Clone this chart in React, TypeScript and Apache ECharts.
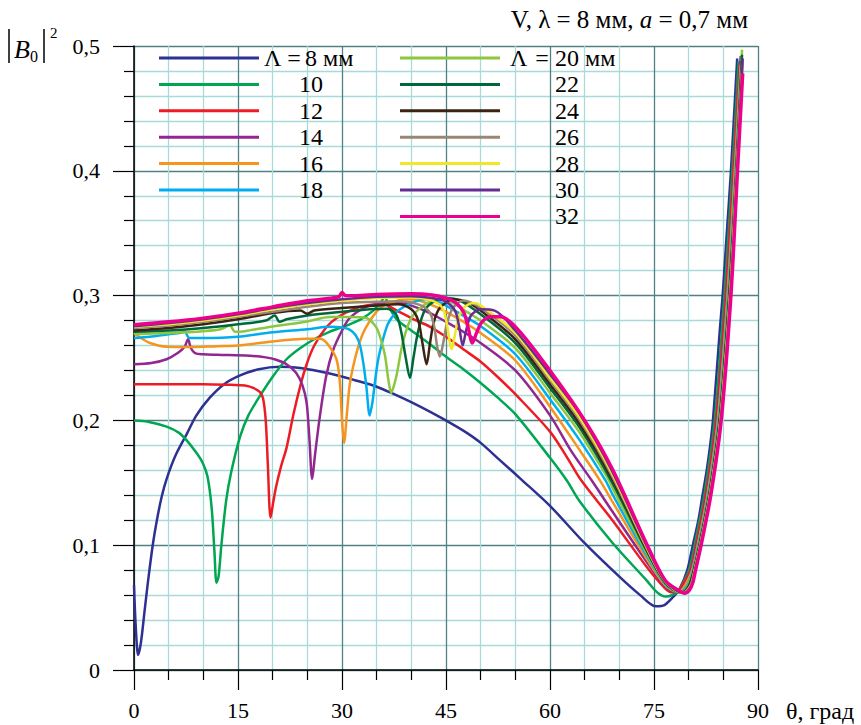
import React, { useEffect, useRef } from "react";
import * as echarts from "echarts";

const FONT = "Liberation Serif";

// Λ values (mm) for each curve
const lambdas = ["8", "10", "12", "14", "16", "18", "20", "22", "24", "26", "28", "30", "32"];
const legendLeft = ["8", "10", "12", "14", "16", "18"];
const legendRight = ["20", "22", "24", "26", "28", "30", "32"];

// [theta (deg), |B0|^2]
const curve8 = [[0,0.068],[0.25,0.035],[0.6,0.012],[1.0,0.022],[1.5,0.046],[2,0.07],[2.7,0.1],[3.3,0.12],[4,0.139],[4.7,0.153],[6,0.172],[7.6,0.189],[9,0.204],[10.9,0.218],[13,0.229],[15.3,0.236],[18,0.241],[21,0.243],[24,0.242],[27,0.239],[29.4,0.236],[32,0.232],[35,0.227],[37.5,0.221],[40.2,0.214],[43,0.206],[45.6,0.198],[48,0.19],[50,0.182],[52.8,0.168],[56,0.152],[60,0.1315],[65,0.1016],[70,0.0748],[73,0.06],[75.3,0.051],[76.5,0.052],[77.8,0.0588],[78.7,0.065],[79.8,0.08],[80.6,0.1],[81.4,0.12],[82,0.14],[82.6,0.16],[83.1,0.18],[83.5,0.2],[84.5,0.273],[84.9,0.3],[85.5,0.35],[86.1,0.4],[86.6,0.45],[87,0.49]];
const curve10 = [[0,0.2],[2,0.199],[4.7,0.195],[6.5,0.19],[7.6,0.184],[9,0.174],[9.9,0.166],[10.6,0.155],[11.2,0.13],[11.6,0.095],[11.9,0.07],[12.2,0.075],[12.6,0.1],[13.3,0.136],[14,0.158],[15.3,0.187],[16.5,0.204],[18.1,0.219],[20,0.235],[22,0.249],[24,0.258],[26.3,0.266],[28.2,0.271],[31.1,0.277],[33,0.282],[34.5,0.288],[35.5,0.294],[36.2,0.299],[36.7,0.292],[37.9,0.281],[40,0.272],[42.7,0.261],[45,0.251],[47.5,0.241],[50,0.23],[52.3,0.219],[55,0.205],[60,0.17],[62.4,0.152],[64.3,0.135],[69,0.102],[73.9,0.072],[75.5,0.062],[76.7,0.0588],[77.6,0.06],[78.5,0.0636],[79.2,0.07],[80.05,0.08],[80.85,0.1],[82.25,0.14],[83.75,0.2],[85.15,0.3],[86.3,0.4],[87.2,0.488]];
const curve12 = [[0,0.229],[5,0.229],[10,0.229],[14,0.2285],[16,0.228],[17.2,0.226],[18.1,0.223],[18.6,0.218],[19,0.2],[19.3,0.165],[19.7,0.122],[20.1,0.135],[20.5,0.147],[21.2,0.163],[22,0.178],[23,0.205],[24,0.228],[24.9,0.245],[26,0.26],[27.8,0.275],[29.5,0.283],[31.6,0.289],[33.5,0.292],[35.9,0.293],[37.9,0.288],[40,0.282],[42.7,0.275],[45,0.267],[47.5,0.257],[50,0.247],[52.8,0.233],[55,0.221],[60,0.191],[62.5,0.17],[64.5,0.152],[69,0.12],[73.9,0.083],[76.6,0.0655],[77.6,0.0622],[78.5,0.0638],[79.3,0.07],[80.25,0.08],[81.05,0.1],[82.45,0.14],[83.95,0.2],[85.35,0.3],[86.45,0.4],[87.35,0.485]];
const curve14 = [[0,0.245],[2.5,0.246],[4.7,0.249],[6.3,0.254],[7.3,0.259],[7.8,0.265],[8.2,0.258],[8.8,0.254],[10,0.253],[12,0.2526],[16.7,0.2518],[19,0.2505],[20.5,0.2486],[22,0.245],[23.4,0.238],[24.3,0.228],[24.9,0.214],[25.3,0.185],[25.7,0.153],[26.1,0.172],[26.8,0.203],[27.7,0.235],[28.7,0.256],[30,0.272],[31.1,0.282],[33.5,0.291],[36,0.294],[38,0.2945],[40,0.292],[42.7,0.286],[45,0.279],[47.5,0.271],[50,0.262],[55,0.24],[60,0.204],[63,0.176],[66,0.152],[69,0.127],[73.9,0.087],[76.6,0.067],[78,0.0625],[78.8,0.064],[79.6,0.07],[80.4,0.08],[81.2,0.1],[82.6,0.14],[84.1,0.2],[85.5,0.3],[86.6,0.4],[87.5,0.492]];
const curve16 = [[0,0.27],[1,0.266],[2.3,0.262],[4.7,0.259],[8,0.2588],[12,0.2595],[15,0.26],[20,0.2633],[25,0.2654],[26.8,0.2655],[27.8,0.262],[29.2,0.249],[29.7,0.23],[30,0.2],[30.3,0.182],[30.7,0.205],[31.1,0.228],[31.6,0.243],[32.5,0.262],[33.5,0.275],[35.5,0.29],[38,0.296],[40,0.297],[42.7,0.293],[45,0.287],[47.5,0.279],[50,0.27],[55,0.248],[60,0.211],[64.3,0.176],[67.2,0.152],[69,0.135],[73.9,0.0895],[76.6,0.068],[78.3,0.0627],[79,0.064],[79.7,0.07],[80.5,0.08],[81.3,0.1],[82.7,0.14],[84.2,0.2],[85.6,0.3],[86.65,0.4],[87.5,0.485]];
const curve18 = [[0,0.266],[2.3,0.267],[5,0.269],[6.6,0.27],[7.3,0.271],[8,0.266],[10,0.266],[15,0.267],[20,0.2706],[25,0.273],[28.2,0.275],[30,0.2745],[31.1,0.2727],[32,0.268],[32.6,0.26],[33.1,0.245],[33.5,0.228],[34,0.204],[34.4,0.215],[34.7,0.2285],[35.1,0.245],[35.5,0.256],[36.6,0.277],[37.9,0.287],[40,0.294],[42,0.297],[44,0.295],[45,0.292],[47.5,0.284],[50,0.2755],[55,0.253],[60,0.217],[64.3,0.184],[68,0.152],[69,0.141],[73.9,0.092],[76.6,0.069],[78.6,0.0625],[79.3,0.064],[80,0.07],[80.6,0.08],[81.4,0.1],[82.8,0.14],[84.3,0.2],[85.7,0.3],[86.75,0.4],[87.6,0.487]];
const curve20 = [[0,0.269],[5,0.27],[10,0.2715],[12.5,0.273],[13.8,0.276],[14.6,0.271],[16,0.2715],[20,0.2753],[25,0.2793],[28.2,0.2828],[31.1,0.2828],[33.5,0.282],[34.3,0.279],[35,0.274],[35.6,0.265],[36.2,0.252],[36.7,0.232],[37.1,0.222],[37.5,0.228],[37.9,0.237],[38.8,0.263],[40,0.282],[42,0.293],[44,0.297],[46,0.294],[48,0.287],[50,0.28],[55,0.258],[60,0.222],[64.3,0.19],[68.5,0.152],[69,0.146],[73.9,0.094],[76.6,0.0695],[78.8,0.062],[79.5,0.064],[80.1,0.07],[80.67,0.08],[81.47,0.1],[82.87,0.14],[84.37,0.2],[85.77,0.3],[86.8,0.4],[87.7,0.497]];
const curve22 = [[0,0.271],[5,0.272],[10,0.274],[15,0.277],[19,0.28],[20.3,0.284],[21,0.279],[22,0.281],[25,0.284],[30,0.287],[34,0.289],[36.5,0.2895],[37.8,0.285],[38.5,0.272],[39.2,0.25],[39.8,0.234],[40.3,0.25],[41,0.272],[42,0.289],[43.5,0.296],[45,0.298],[47,0.296],[50,0.285],[55,0.262],[60,0.226],[64.3,0.194],[69,0.15],[73.9,0.096],[76.6,0.07],[78.9,0.062],[79.6,0.064],[80.2,0.07],[80.73,0.08],[81.53,0.1],[82.93,0.14],[84.43,0.2],[85.83,0.3],[86.85,0.4],[87.7,0.493]];
const curve24 = [[0,0.272],[5,0.274],[10,0.277],[15,0.281],[20,0.286],[24,0.288],[25,0.2855],[26,0.288],[30,0.29],[35,0.292],[38,0.293],[40,0.289],[41,0.28],[41.6,0.262],[42.2,0.245],[42.7,0.262],[43.2,0.278],[44.1,0.29],[46,0.297],[48,0.295],[50,0.288],[55,0.265],[60,0.229],[64.3,0.197],[69,0.153],[73.9,0.097],[76.6,0.0705],[79,0.062],[79.7,0.064],[80.3,0.07],[80.78,0.08],[81.58,0.1],[82.98,0.14],[84.48,0.2],[85.88,0.3],[86.9,0.4],[87.7,0.488]];
const curve26 = [[0,0.274],[5,0.276],[10,0.279],[15,0.283],[20,0.287],[25,0.291],[30,0.294],[35,0.295],[38,0.2955],[41,0.293],[42.6,0.287],[43.3,0.275],[43.7,0.26],[44.1,0.251],[44.6,0.262],[45.1,0.277],[46,0.29],[47.5,0.296],[50,0.29],[55,0.268],[60,0.232],[64.3,0.2],[69,0.155],[73.9,0.098],[76.6,0.071],[79.1,0.0618],[79.8,0.064],[80.4,0.07],[80.83,0.08],[81.63,0.1],[83.03,0.14],[84.53,0.2],[85.93,0.3],[86.92,0.4],[87.72,0.486]];
const curve28 = [[0,0.275],[5,0.277],[10,0.28],[15,0.284],[20,0.289],[25,0.293],[30,0.296],[35,0.298],[40,0.2985],[43,0.296],[44.5,0.29],[45.1,0.278],[45.5,0.264],[45.8,0.257],[46.2,0.266],[46.7,0.28],[47.5,0.29],[49,0.294],[50,0.292],[55,0.27],[60,0.234],[64.3,0.202],[69,0.157],[73.9,0.099],[76.6,0.0713],[79.2,0.0617],[79.9,0.064],[80.5,0.07],[80.88,0.08],[81.68,0.1],[83.08,0.14],[84.58,0.2],[85.98,0.3],[86.96,0.4],[87.74,0.483]];
const curve30 = [[0,0.2755],[5,0.278],[10,0.281],[15,0.285],[20,0.29],[25,0.294],[30,0.297],[35,0.299],[40,0.2995],[43,0.298],[45,0.295],[46.3,0.288],[46.9,0.275],[47.4,0.26],[47.9,0.272],[48.6,0.284],[50,0.289],[52,0.288],[55,0.272],[60,0.237],[64.3,0.205],[69,0.159],[73.9,0.1],[76.6,0.0716],[79.3,0.0616],[80,0.064],[80.55,0.07],[80.93,0.08],[81.73,0.1],[83.13,0.14],[84.63,0.2],[86.03,0.3],[87.0,0.4],[87.8,0.49]];
const curve32 = [[0,0.2767],[5,0.279],[10,0.282],[15,0.286],[20,0.291],[25,0.2959],[29.5,0.299],[30,0.3025],[30.5,0.3],[32,0.3],[35,0.301],[40,0.3015],[43,0.3005],[45,0.298],[46.5,0.294],[47.6,0.286],[48.2,0.274],[48.8,0.262],[49.4,0.27],[50.2,0.279],[51.5,0.283],[52.8,0.283],[55.2,0.274],[60,0.24],[65,0.2],[69,0.161],[73.9,0.1016],[76.6,0.072],[78.5,0.064],[79.4,0.0615],[80.1,0.064],[80.6,0.07],[81.0,0.08],[81.8,0.1],[83.2,0.14],[84.7,0.2],[86.1,0.3],[87.05,0.4],[87.8,0.478]];

const curves = [curve8, curve10, curve12, curve14, curve16, curve18, curve20, curve22, curve24, curve26, curve28, curve30, curve32];
const colors = ["#2e3192", "#00a651", "#ed1c24", "#92278f", "#f7941d", "#00aeef", "#8dc63f", "#006838", "#3b2314", "#998675", "#f2e724", "#662d91", "#ec008c"];

const xMin = 0, xMax = 90, xStep = 15;
const yMin = 0, yMax = 0.5, yStep = 0.1;

export default function App() {
  const ref = useRef<HTMLDivElement>(null);
  useEffect(() => {
    if (!ref.current) return;
    const chart = echarts.init(ref.current, undefined, { renderer: "svg" });
    const series = lambdas.map((l, i) => ({
      name: l,
      type: "line",
      data: curves[i],
      showSymbol: false,
      symbol: "none",
      smooth: 0.3,
      lineStyle: { color: colors[i], width: i === 12 ? 3.4 : 2.5 },
      itemStyle: { color: colors[i] },
      z: 2 + i,
    }));
    const legendText = { fontFamily: FONT, fontSize: 24, color: "#000", lineHeight: 22 };
    chart.setOption({
      animation: false,
      backgroundColor: "#fff",
      textStyle: { fontFamily: FONT },
      grid: { left: 134, right: 103, top: 46, bottom: 55 },
      xAxis: {
        type: "value", min: xMin, max: xMax, interval: xStep,
        axisLine: { show: true, onZero: false, lineStyle: { color: "#000", width: 1.5 } },
        axisTick: { show: true, inside: false, length: 20, lineStyle: { color: "#000", width: 1.2 } },
        minorTick: { show: true, splitNumber: 3, length: 10, lineStyle: { color: "#000", width: 1.2 } },
        splitLine: { show: true, lineStyle: { color: "#4f8182", width: 1.3 } },
        minorSplitLine: { show: true, lineStyle: { color: "#a8dada", width: 1.3 } },
        axisLabel: { fontFamily: FONT, fontSize: 22, color: "#000", margin: 29 },
      },
      yAxis: {
        type: "value", min: yMin, max: yMax, interval: yStep,
        axisLine: { show: true, onZero: false, lineStyle: { color: "#000", width: 1.5 } },
        axisTick: { show: true, inside: false, length: 21, lineStyle: { color: "#000", width: 1.2 } },
        minorTick: { show: true, splitNumber: 5, length: 10, lineStyle: { color: "#000", width: 1.2 } },
        splitLine: { show: true, lineStyle: { color: "#4f8182", width: 1.3 } },
        minorSplitLine: { show: true, lineStyle: { color: "#a8dada", width: 1.3 } },
        axisLabel: {
          fontFamily: FONT, fontSize: 22, color: "#000", margin: 34,
          formatter: (v: number) => (v === 0 ? "0" : v.toFixed(1).replace(".", ",")),
        },
      },
      legend: [
        {
          data: legendLeft, orient: "vertical", left: 159, top: 46, padding: 0,
          itemWidth: 100, itemHeight: 3, itemGap: 2.4, icon: "rect", selectedMode: false,
          textStyle: { ...legendText, rich: { L: { ...legendText, width: 19 }, E: { ...legendText, width: 22, align: "center" }, P: { ...legendText, width: 35 } } },
          formatter: (n: string) => (n === "8" ? "{L|Λ}{E|=}8 мм" : "{P| }" + n),
        },
        {
          data: legendRight, orient: "vertical", left: 400, top: 46, padding: 0,
          itemWidth: 100, itemHeight: 3, itemGap: 2.4, icon: "rect", selectedMode: false,
          textStyle: { ...legendText, rich: { S: { ...legendText, width: 5 }, L: { ...legendText, width: 19 }, E: { ...legendText, width: 26, align: "center" }, P: { ...legendText, width: 50 } } },
          formatter: (n: string) => (n === "20" ? "{S| }{L|Λ}{E|=}20 мм" : "{P| }" + n),
        },
      ],
      graphic: [
        {
          type: "text", x: 748, y: 19,
          style: {
            text: "V, λ = 8 мм, {i|a} = 0,7 мм",
            fontFamily: FONT, fontSize: 25, fill: "#000", align: "right", verticalAlign: "middle",
            rich: { i: { fontStyle: "italic", fontFamily: FONT, fontSize: 25, fill: "#000" } },
          },
        },
        {
          type: "text", x: 786, y: 711,
          style: { text: "θ, град", fontFamily: FONT, fontSize: 24, fill: "#000", align: "left", verticalAlign: "middle" },
        },
        { type: "line", shape: { x1: 9, y1: 29, x2: 9, y2: 63 }, style: { stroke: "#000", lineWidth: 1.5 } },
        { type: "line", shape: { x1: 44, y1: 29, x2: 44, y2: 63 }, style: { stroke: "#000", lineWidth: 1.5 } },
        { type: "text", x: 14, y: 49, style: { text: "B", fontFamily: FONT, fontStyle: "italic", fontSize: 26, fill: "#000", verticalAlign: "middle" } },
        { type: "text", x: 30, y: 56, style: { text: "0", fontFamily: FONT, fontSize: 16, fill: "#000", verticalAlign: "middle" } },
        { type: "text", x: 50, y: 33, style: { text: "2", fontFamily: FONT, fontSize: 15, fill: "#000", verticalAlign: "middle" } },
      ],
      series,
    });
    return () => chart.dispose();
  }, []);
  return <div ref={ref} style={{ position: "fixed", left: 0, top: 0, width: 861, height: 725 }} />;
}
